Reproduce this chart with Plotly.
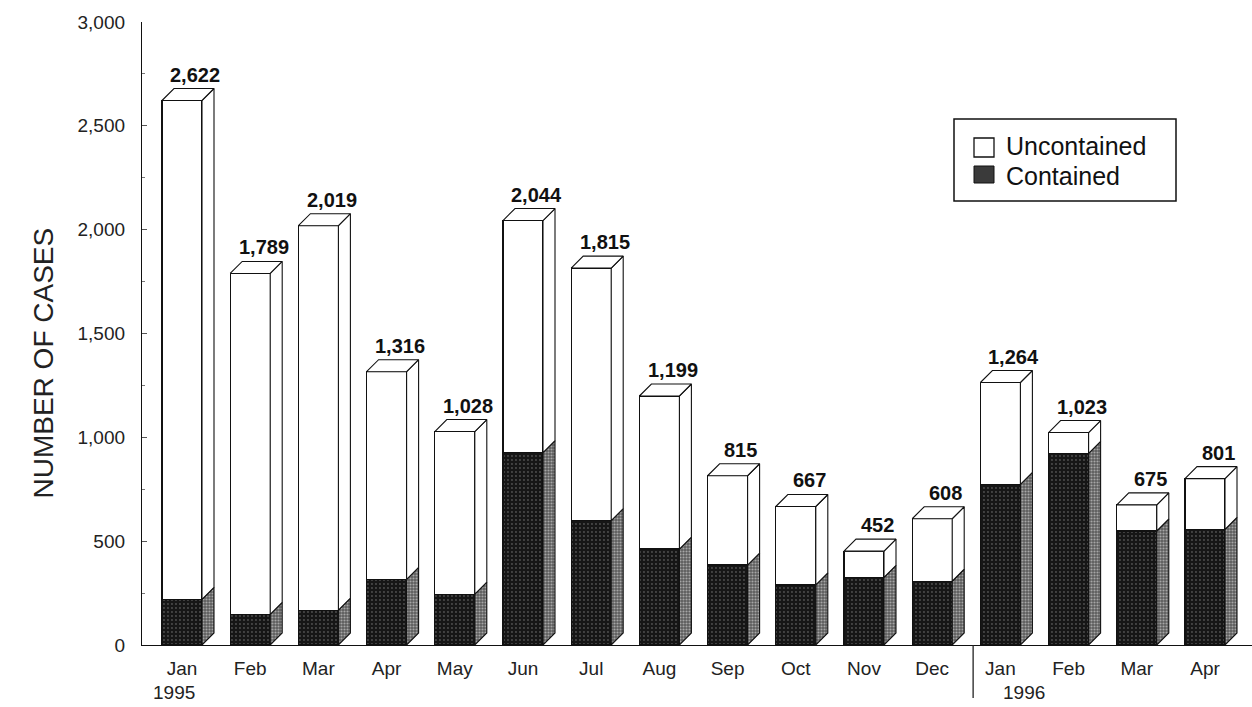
import plotly.graph_objects as go

# Monthly case counts, Jan 1995 - Apr 1996
months = ["Jan", "Feb", "Mar", "Apr", "May", "Jun", "Jul", "Aug",
          "Sep", "Oct", "Nov", "Dec", "Jan", "Feb", "Mar", "Apr"]
totals = [2622, 1789, 2019, 1316, 1028, 2044, 1815, 1199,
          815, 667, 452, 608, 1264, 1023, 675, 801]
contained = [220, 148, 168, 316, 245, 926, 599, 462,
             385, 289, 326, 307, 774, 923, 549, 557]
uncontained = [t - c for t, c in zip(totals, contained)]
years = ["1995", "1996"]
year_start_idx = [0, 12]

# figure geometry (pixels)
W, H = 1252, 707
ML, MR, MT, MB = 142, 0, 22, 62
PLOT_W, PLOT_H = W - ML - MR, H - MT - MB
CAT_PX = 68.2          # pixel distance between bar centres
FIRST_PX = 182         # pixel position of the first bar centre
Y_MAX = 3000
PX_PER_UNIT = PLOT_H / Y_MAX

x_range = [-(FIRST_PX - ML) / CAT_PX, (W - MR - FIRST_PX) / CAT_PX]
BAR_W = 40 / CAT_PX                  # front face width
DX = 12 / CAT_PX                     # depth offset in category units
DY = 12 / PX_PER_UNIT                # depth offset in value units

idx = list(range(len(months)))
FONT = "Arial, Liberation Sans, sans-serif"
EDGE = "#111111"

fig = go.Figure()

# front faces
fig.add_trace(go.Bar(
    x=idx, y=contained, width=BAR_W, name="Contained",
    marker=dict(color="#1c1c1c",
                line=dict(color=EDGE, width=1.2),
                pattern=dict(shape=".", bgcolor="#161616", fgcolor="#8a8a8a",
                             size=4, solidity=0.18)),
    hoverinfo="skip", showlegend=False))
fig.add_trace(go.Bar(
    x=idx, y=uncontained, width=BAR_W, name="Uncontained",
    marker=dict(color="white", line=dict(color=EDGE, width=1.2)),
    hoverinfo="skip", showlegend=False))


def poly_trace(polys, fill, pattern=None):
    xs, ys = [], []
    for p in polys:
        for (px, py) in p:
            xs.append(px)
            ys.append(py)
        xs.append(p[0][0])
        ys.append(p[0][1])
        xs.append(None)
        ys.append(None)
    kw = dict(x=xs, y=ys, mode="lines", fill="toself", fillcolor=fill,
              line=dict(color=EDGE, width=1.1), hoverinfo="skip",
              showlegend=False)
    if pattern:
        kw["fillpattern"] = pattern
    return go.Scatter(**kw)


side_dark, side_light, tops = [], [], []
for i, t, c in zip(idx, totals, contained):
    xr = i + BAR_W / 2
    xl = i - BAR_W / 2
    side_dark.append([(xr, 0), (xr + DX, DY), (xr + DX, c + DY), (xr, c)])
    side_light.append([(xr, c), (xr + DX, c + DY), (xr + DX, t + DY), (xr, t)])
    tops.append([(xl, t), (xr, t), (xr + DX, t + DY), (xl + DX, t + DY)])

fig.add_trace(poly_trace(side_dark, "#6a6a6a",
                         dict(shape=".", bgcolor="#5c5c5c", fgcolor="#f0f0f0",
                              size=3, solidity=0.4)))
fig.add_trace(poly_trace(side_light, "white"))
fig.add_trace(poly_trace(tops, "white"))

annotations = []
# total labels above each bar
for i, t in zip(idx, totals):
    annotations.append(dict(
        x=i + DX + 0.02, y=t + DY, xref="x", yref="y",
        text=f"<b>{t:,}</b>", showarrow=False, yanchor="bottom",
        yshift=1, font=dict(family=FONT, size=20, color="#111")))

# year labels under the first month of each year
for yr, k, shift in zip(years, year_start_idx, [-8, 24]):
    annotations.append(dict(
        x=k, y=0, xref="x", yref="paper", text=yr, showarrow=False,
        yanchor="top", yshift=-35, xshift=shift,
        font=dict(family=FONT, size=19, color="#222")))

# y-axis title
annotations.append(dict(
    x=(25 - ML) / PLOT_W, y=(645 - 363) / PLOT_H, xref="paper", yref="paper",
    text="NUMBER OF CASES", textangle=-90, showarrow=False,
    font=dict(family=FONT, size=28, color="#222")))


def px_x(p):
    return (p - ML) / PLOT_W


def px_y(p):
    return (H - MB - p) / PLOT_H


# legend
shapes = [
    dict(type="rect", xref="paper", yref="paper",
         x0=px_x(954), x1=px_x(1176), y0=px_y(201), y1=px_y(119),
         line=dict(color=EDGE, width=1.5), fillcolor="white", layer="above"),
    dict(type="rect", xref="paper", yref="paper",
         x0=px_x(974), x1=px_x(994), y0=px_y(157), y1=px_y(138),
         line=dict(color=EDGE, width=1.3), fillcolor="white", layer="above"),
    dict(type="rect", xref="paper", yref="paper",
         x0=px_x(974), x1=px_x(994), y0=px_y(183), y1=px_y(166),
         line=dict(color=EDGE, width=1), fillcolor="#3a3a3a", layer="above"),
    # divider between the two years
    dict(type="line", xref="x", yref="paper",
         x0=11.6, x1=11.6, y0=0, y1=-53 / PLOT_H,
         line=dict(color="#222", width=1.3)),
]
for label, cy in [("Uncontained", 146), ("Contained", 176)]:
    annotations.append(dict(
        x=px_x(1004), y=px_y(cy), xref="paper", yref="paper", text=label,
        showarrow=False, xanchor="left", yanchor="middle",
        font=dict(family=FONT, size=25, color="#111")))

fig.update_layout(
    width=W, height=H, barmode="stack",
    margin=dict(l=ML, r=MR, t=MT, b=MB),
    paper_bgcolor="white", plot_bgcolor="white",
    font=dict(family=FONT, color="#222"),
    xaxis=dict(range=x_range, tickmode="array", tickvals=idx, ticktext=months,
               showgrid=False, zeroline=False, showline=True,
               linecolor=EDGE, linewidth=1.3, ticks="",
               tickfont=dict(family=FONT, size=19, color="#222"),
               ticklabelstandoff=6),
    yaxis=dict(range=[0, Y_MAX], tickmode="linear", tick0=0, dtick=500,
               tickformat=",d", showgrid=False, zeroline=False,
               showline=True, linecolor=EDGE, linewidth=1.3,
               ticks="inside", ticklen=5, tickcolor="#555",
               minor=dict(dtick=250, ticks="inside", ticklen=3,
                          tickcolor="#777"),
               tickfont=dict(family=FONT, size=19, color="#222"),
               ticklabelstandoff=12),
    shapes=shapes, annotations=annotations, showlegend=False,
)

fig.write_html("out.html")
